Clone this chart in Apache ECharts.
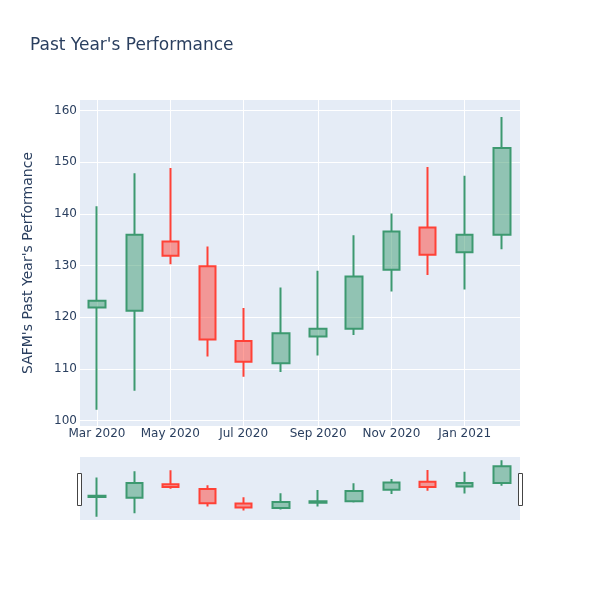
<!DOCTYPE html>
<html>
<head>
<meta charset="utf-8">
<script src="https://cdn.jsdelivr.net/npm/echarts@6/dist/echarts.min.js"></script>
<style>html,body{margin:0;padding:0;background:#fff}#c{width:600px;height:600px}</style>
</head>
<body>
<div id="c"></div>
<script>
var dates = ['2020-03-01','2020-04-01','2020-05-01','2020-06-01','2020-07-01','2020-08-01','2020-09-01','2020-10-01','2020-11-01','2020-12-01','2021-01-01','2021-02-01'];
var opens  = [121.9,121.3,134.7,129.9,115.4,111.1,116.3,117.8,129.2,137.4,132.6,136.0];
var closes = [123.2,136.0,131.9,115.7,111.4,116.9,117.8,127.9,136.6,132.1,136.0,152.8];
var lows   = [102.1,105.8,130.3,112.4,108.5,109.4,112.6,116.6,125.0,128.2,125.4,133.2];
var highs  = [141.5,147.9,148.9,133.7,121.8,125.8,129.0,135.9,140.1,149.1,147.4,158.8];
var xTicks = ['2020-03-01','2020-05-01','2020-07-01','2020-09-01','2020-11-01','2021-01-01'];
var yTicks = [100,110,120,130,140,150,160];
var monthNames = ['Jan','Feb','Mar','Apr','May','Jun','Jul','Aug','Sep','Oct','Nov','Dec'];

function ts(s){ var p = s.split('-'); return new Date(+p[0], +p[1]-1, +p[2]).getTime(); }
var data = dates.map(function(d,i){ return [ts(d), opens[i], closes[i], lows[i], highs[i]]; });
var xTickVals = xTicks.map(ts);
var xMin = ts('2020-03-01') - 14.15*86400000;
var xMax = ts('2021-02-16');
var yMin = 98.97, yMax = 162.07;
var font = 'DejaVu Sans, sans-serif';
var txt = '#2a3f5f';

var itemStyle = {
  color: 'rgba(61,153,112,0.5)', color0: 'rgba(255,65,54,0.5)',
  borderColor: '#3D9970', borderColor0: '#FF4136', borderWidth: 2
};

var chart = echarts.init(document.getElementById('c'));
chart.setOption({
  animation: false,
  backgroundColor: '#fff',
  title: { text: "Past Year's Performance", left: 25, top: 32,
    textStyle: { fontFamily: font, fontSize: 17, fontWeight: 'normal', color: txt } },
  grid: [
    { left: 80, right: 80, top: 100, height: 326, show: true, backgroundColor: '#e5ecf6', borderWidth: 0 },
    { left: 80, right: 80, top: 457, height: 63, show: true, backgroundColor: '#e5ecf6', borderWidth: 0 }
  ],
  xAxis: [
    { type: 'value', gridIndex: 0, min: xMin, max: xMax, scale: true,
      axisLine: { show: false }, axisTick: { show: false, customValues: xTickVals },
      splitLine: { show: true, lineStyle: { color: '#fff', width: 1 } },
      axisLabel: { customValues: xTickVals, margin: 2, color: txt, fontFamily: font, fontSize: 12,
        formatter: function(v){ var d = new Date(v); return monthNames[d.getMonth()] + ' ' + d.getFullYear(); } } },
    { type: 'value', gridIndex: 1, min: xMin, max: xMax, scale: true, show: false,
      splitLine: { show: false } }
  ],
  yAxis: [
    { type: 'value', gridIndex: 0, min: yMin, max: yMax,
      name: "SAFM's Past Year's Performance", nameLocation: 'middle', nameGap: 45,
      nameTextStyle: { fontFamily: font, fontSize: 14, color: txt },
      axisLine: { show: false }, axisTick: { show: false, customValues: yTicks },
      splitLine: { show: true, lineStyle: { color: '#fff', width: 1 } },
      axisLabel: { customValues: yTicks, margin: 3, color: txt, fontFamily: font, fontSize: 12 } },
    { type: 'value', gridIndex: 1, min: yMin, max: yMax, show: false, splitLine: { show: false } }
  ],
  series: [
    { type: 'candlestick', xAxisIndex: 0, yAxisIndex: 0, barWidth: 17, data: data, itemStyle: itemStyle },
    { type: 'candlestick', xAxisIndex: 1, yAxisIndex: 1, barWidth: 17, data: data, itemStyle: itemStyle, silent: true }
  ],
  graphic: [
    { type: 'rect', shape: { x: 77.5, y: 473.5, width: 4, height: 32 }, style: { fill: '#fff', stroke: '#444', lineWidth: 1 } },
    { type: 'rect', shape: { x: 518.5, y: 473.5, width: 4, height: 32 }, style: { fill: '#fff', stroke: '#444', lineWidth: 1 } }
  ]
});
</script>
</body>
</html>
